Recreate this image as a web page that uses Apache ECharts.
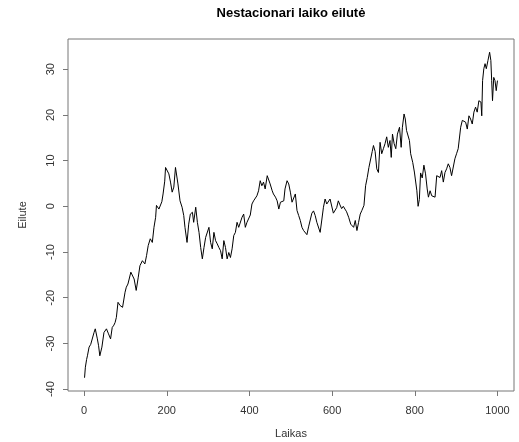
<!DOCTYPE html>
<html>
<head>
<meta charset="utf-8">
<title>Nestacionari laiko eilutė</title>
<script src="https://cdn.jsdelivr.net/npm/echarts@6/dist/echarts.min.js"></script>
<style>
  html, body { margin: 0; padding: 0; background: #fff; }
  #chart { width: 519px; height: 442px; }
</style>
</head>
<body>
<div id="chart"></div>
<script>
// laiko momentai (nuskaityti nuo paveikslo)
const laikas = [
  1, 3, 6, 8, 12, 16, 19, 24, 27, 32, 35, 38, 43, 48, 54, 59, 64, 68, 72, 75,
  78, 82, 87, 93, 99, 102, 106, 109, 113, 117, 121, 126, 131, 135, 141, 147, 151, 155, 160, 165,
  169, 171, 173, 175, 181, 185, 188, 191, 195, 197, 201, 205, 209, 213, 217, 221, 224, 227, 232, 237,
  241, 244, 248, 249, 253, 257, 262, 265, 270, 274, 278, 282, 286, 290, 294, 298, 302, 306, 310, 314,
  318, 322, 326, 330, 334, 338, 342, 346, 350, 354, 358, 362, 366, 370, 374, 378, 382, 386, 390, 394,
  398, 402, 406, 410, 414, 418, 422, 426, 430, 434, 438, 443, 446, 450, 455, 458, 463, 467, 471, 475,
  479, 483, 486, 491, 495, 499, 503, 507, 511, 515, 519, 523, 527, 531, 535, 539, 543, 547, 551, 555,
  559, 563, 567, 571, 575, 579, 583, 587, 591, 595, 599, 603, 607, 611, 615, 619, 623, 627, 631, 635,
  640, 645, 652, 656, 660, 664, 668, 672, 677, 681, 685, 689, 692, 697, 700, 704, 708, 712, 716, 720,
  724, 728, 732, 736, 740, 743, 746, 750, 754, 758, 763, 767, 770, 774, 777, 780, 783, 787, 790, 795,
  799, 802, 805, 808, 811, 814, 818, 822, 826, 830, 833, 837, 841, 845, 849, 853, 857, 861, 865, 869,
  873, 877, 881, 885, 889, 893, 897, 901, 905, 908, 911, 915, 919, 923, 927, 931, 935, 939, 943, 947,
  951, 955, 960, 962, 964, 967, 970, 973, 977, 981, 984, 986, 988, 991, 994, 997, 1000
]

// eilutės reikšmės
const eilute = [
  -37.5, -35.2, -33.5, -32.7, -30.8, -30.2, -29.8, -27.6, -26.8, -29.0, -30.5, -32.7, -30.8, -27.6, -26.8, -27.9, -29.0, -26.5, -26.0, -25.4,
  -24.3, -21.0, -21.7, -22.1, -18.8, -17.7, -17.0, -15.9, -14.4, -14.1, -15.9, -18.4, -15.5, -13.0, -11.9, -12.6, -10.8, -8.6, -7.1, -7.9,
  -4.6, -4.9, -2.4, 0.2, -0.6, -0.6, 1.0, 2.7, 5.5, 8.5, 8.9, 7.1, 5.3, 3.1, 4.2, 8.5, 8.2, 4.9, 1.2, -0.2,
  -2.0, -4.6, -4.2, -7.9, -3.9, -1.7, -1.3, -3.5, -0.2, -3.5, -5.7, -9.0, -11.5, -9.0, -6.8, -7.1, -4.6, -7.9, -9.3, -5.7,
  -7.5, -8.2, -9.0, -9.7, -11.5, -7.5, -9.0, -11.5, -10.1, -11.2, -9.3, -6.4, -5.7, -3.5, -4.6, -4.9, -2.4, -1.7, -4.6, -3.5,
  -3.9, -1.9, 0.5, 1.2, 1.3, 2.3, 3.4, 5.6, 4.5, 5.3, 3.8, 6.7, 6.9, 4.9, 3.4, 2.7, 2.0, 1.2, -0.6, 0.9,
  0.5, 1.2, 3.8, 5.6, 4.9, 3.1, 0.9, 0.9, 2.7, -0.9, -2.0, -3.1, -4.6, -5.3, -5.7, -6.2, -4.5, -4.9, -1.5, -1.0,
  -2.0, -3.5, -3.9, -5.7, -3.0, -0.2, 1.6, 0.5, 0.3, 1.6, 1.2, -1.5, -1.2, -0.3, 1.2, 0.3, -0.5, 0.0, -0.6, -1.2,
  -2.4, -3.9, -4.6, -3.1, -5.3, -3.5, -1.7, -0.9, 0.2, 4.5, 6.3, 8.5, 8.2, 12.0, 13.3, 12.0, 8.2, 7.4, 14.0, 11.5,
  12.6, 13.7, 15.2, 12.9, 14.4, 10.7, 15.8, 13.7, 12.6, 15.8, 17.3, 12.9, 17.3, 20.2, 19.1, 16.6, 16.9, 14.4, 11.5, 9.6,
  7.5, 7.1, 3.4, 0.0, 1.5, 7.3, 6.2, 9.0, 7.1, 3.8, 2.0, 3.4, 2.3, 2.7, 2.0, 6.7, 7.1, 6.3, 7.8, 5.3,
  7.4, 8.2, 9.3, 8.5, 6.7, 6.3, 10.4, 11.5, 12.6, 12.9, 17.3, 18.8, 19.1, 18.4, 16.9, 19.8, 19.1, 18.0, 20.6, 21.7,
  20.6, 23.1, 22.8, 19.8, 27.5, 30.1, 31.2, 30.1, 31.9, 33.7, 31.9, 27.5, 23.1, 28.2, 27.5, 25.3, 27.5
]

// ašių padalos
const xTicks = [0, 200, 400, 600, 800, 1000]
const yTicks = [-40, -30, -20, -10, 0, 10, 20, 30]

const chart = echarts.init(document.getElementById('chart'), null, { renderer: 'canvas' })

const font = "'Liberation Sans', Arial, sans-serif"
const axisGrey = '#777'

const option = {
  animation: false,
  backgroundColor: '#fff',
  title: {
    text: 'Nestacionari laiko eilutė',
    left: 291,
    top: 7,
    padding: 0,
    textAlign: 'center',
    textStyle: { fontFamily: font, fontSize: 13, fontWeight: 'bold', color: '#000' }
  },
  grid: {
    left: 68,
    right: 5,
    top: 39,
    bottom: 51,
    show: true,
    borderColor: axisGrey,
    borderWidth: 1,
    backgroundColor: 'transparent',
    outerBoundsMode: 'none'
  },
  xAxis: {
    type: 'value',
    min: -39,
    max: 1040,
    name: 'Laikas',
    nameLocation: 'middle',
    nameGap: 37,
    nameTextStyle: { fontFamily: font, fontSize: 11, color: '#333' },
    axisLine: { show: false, onZero: false },
    splitLine: { show: false },
    axisTick: { show: true, length: 5, customValues: xTicks, lineStyle: { color: axisGrey } },
    axisLabel: {
      customValues: xTicks,
      margin: 14,
      fontFamily: font,
      fontSize: 11,
      color: '#333',
      formatter: (v) => String(v)
    }
  },
  yAxis: {
    type: 'value',
    min: -40.4,
    max: 36.6,
    name: 'Eilute',
    nameLocation: 'middle',
    nameRotate: 90,
    nameGap: 40,
    nameTextStyle: { fontFamily: font, fontSize: 11, color: '#333' },
    axisLine: { show: false, onZero: false },
    splitLine: { show: false },
    axisTick: { show: true, length: 5, customValues: yTicks, lineStyle: { color: axisGrey } },
    axisLabel: {
      customValues: yTicks,
      rotate: 90,
      margin: 12,
      fontFamily: font,
      fontSize: 11,
      color: '#333',
      formatter: (v) => String(v)
    }
  },
  series: [
    {
      type: 'line',
      data: laikas.map((t, i) => [t, eilute[i]]),
      showSymbol: false,
      silent: true,
      lineStyle: { color: '#000', width: 1 }
    }
  ]
}

chart.setOption(option)
window.addEventListener('resize', () => chart.resize())
</script>
</body>
</html>
